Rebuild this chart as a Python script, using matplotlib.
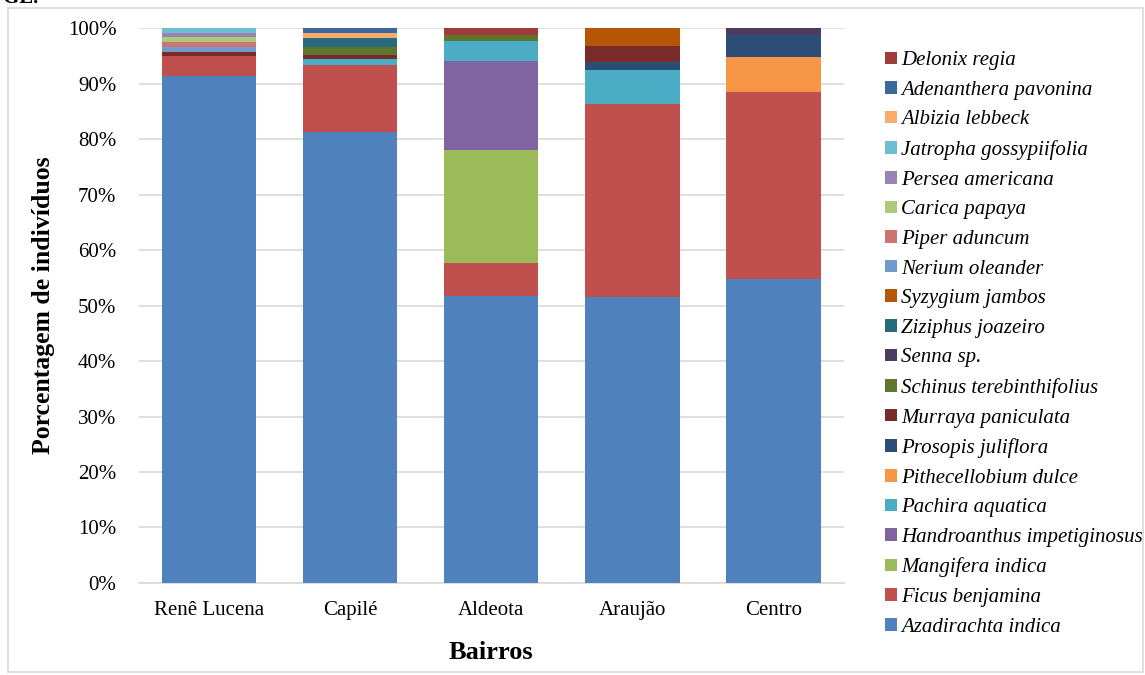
import matplotlib
matplotlib.use("Agg")
import matplotlib.pyplot as plt
from matplotlib.patches import Rectangle
import numpy as np

plt.rcParams['font.family'] = ['Liberation Serif', 'DejaVu Serif']

bairros = ["Renê Lucena", "Capilé", "Aldeota", "Araujão", "Centro"]

# Share of individuals (%) per species in each neighbourhood, stacked bottom to top
especies = [
    "Azadirachta indica", "Ficus benjamina", "Mangifera indica",
    "Handroanthus impetiginosus", "Pachira aquatica", "Pithecellobium dulce",
    "Prosopis juliflora", "Murraya paniculata", "Schinus terebinthifolius",
    "Senna sp.", "Ziziphus joazeiro", "Syzygium jambos", "Nerium oleander",
    "Piper aduncum", "Carica papaya", "Persea americana",
    "Jatropha gossypiifolia", "Albizia lebbeck", "Adenanthera pavonina",
    "Delonix regia",
]

azadirachta = [91.4, 81.2, 51.8, 51.5, 54.8]
ficus = [3.6, 12.1, 5.9, 34.8, 33.6]
mangifera = [0, 0, 20.3, 0, 0]
handroanthus = [0, 0, 16.0, 0, 0]
pachira = [0, 1.1, 3.6, 6.1, 0]
pithecellobium = [0, 0, 0, 0, 6.3]
prosopis = [0, 0, 0, 1.4, 4.1]
murraya = [0.6, 0.8, 0, 3.0, 0]
schinus = [0, 1.4, 1.1, 0, 0]
senna = [0, 0, 0, 0, 1.2]
ziziphus = [0, 1.6, 0, 0, 0]
syzygium = [0, 0, 0, 3.2, 0]
nerium = [1.0, 0, 0, 0, 0]
piper = [0.8, 0, 0, 0, 0]
carica = [0.9, 0, 0, 0, 0]
persea = [0.8, 0, 0, 0, 0]
jatropha = [0.9, 0, 0, 0, 0]
albizia = [0, 0.9, 0, 0, 0]
adenanthera = [0, 0.9, 0, 0, 0]
delonix = [0, 0, 1.3, 0, 0]

valores = [azadirachta, ficus, mangifera, handroanthus, pachira, pithecellobium,
           prosopis, murraya, schinus, senna, ziziphus, syzygium, nerium, piper,
           carica, persea, jatropha, albizia, adenanthera, delonix]

cores = ["#4F81BD", "#C0504D", "#9BBB59", "#8064A2", "#4BACC6", "#F79646",
         "#2C4D75", "#772C2A", "#5F7530", "#4D3B62", "#276A7C", "#B65708",
         "#729ACA", "#CD7371", "#AFC97A", "#9983B5", "#6FBDD1", "#F9AB6B",
         "#3A679C", "#9F3B38"]

fig = plt.figure(figsize=(11.45, 6.75), dpi=100)
ax = fig.add_axes([0.121, 0.1363, 0.616, 0.8222])

x = np.arange(len(bairros))
base = np.zeros(len(bairros))
handles = []
for nome, vals, cor in zip(especies, valores, cores):
    v = np.array(vals, dtype=float) / 100.0
    b = ax.bar(x, v, 0.67, bottom=base, color=cor, label=nome, zorder=3)
    handles.append(b)
    base += v

ax.set_xlim(-0.5, len(bairros) - 0.5)
ax.set_ylim(0, 1.0)
ax.set_yticks(np.arange(0, 1.01, 0.1))
ax.set_yticklabels([f"{int(round(t * 100))}%" for t in np.arange(0, 1.01, 0.1)])
ax.set_xticks(x)
ax.set_xticklabels(bairros)
ax.tick_params(axis='both', length=0, labelsize=15, colors='black')
ax.tick_params(axis='x', pad=13)
ax.tick_params(axis='y', pad=16)
ax.grid(axis='y', color='#D9D9D9', linewidth=1.2, zorder=0)
for s in ['top', 'right', 'left']:
    ax.spines[s].set_visible(False)
ax.spines['bottom'].set_color('#D9D9D9')
ax.spines['bottom'].set_linewidth(1.2)

ax.set_ylabel("Porcentagem de indivíduos", fontsize=18.5, fontweight='bold', labelpad=9)
ax.set_xlabel("Bairros", fontsize=19, fontweight='bold', labelpad=15)

leg = fig.legend(handles[::-1], especies[::-1], loc='center left',
                 bbox_to_anchor=(0.764, 0.4904), frameon=False,
                 prop={'style': 'italic', 'size': 15},
                 handlelength=0.55, handleheight=0.55, handletextpad=0.2,
                 labelspacing=0.51, borderpad=0)

# outer frame of the figure
fig.patches.append(Rectangle((0.007, 0.004), 0.991, 0.984, transform=fig.transFigure,
                             fill=False, edgecolor='#D9D9D9', linewidth=1.2))
fig.text(0.003, 1.003, "GE.", fontsize=15, fontweight='bold', va='center', ha='left')

fig.savefig("out.png", dpi=100)
